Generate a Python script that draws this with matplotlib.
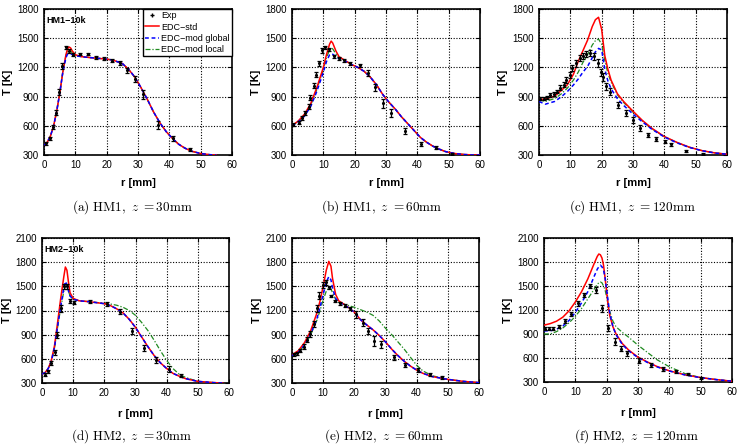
import matplotlib
matplotlib.use("Agg")
from matplotlib import pyplot as plt
from matplotlib.lines import Line2D

plt.rcParams['font.family'] = ['Liberation Sans', 'DejaVu Sans']
plt.rcParams['mathtext.fontset'] = 'cm'

# ---- HM1, z=30mm ----
r_a = [0, 1, 2, 3, 4, 5, 6, 7, 7.5, 8, 8.5, 9, 10, 12, 15, 20, 22, 25, 27, 29, 31, 33, 35, 37, 39, 41, 43, 45, 47, 50, 53, 55]
std_a = [400, 430, 490, 590, 740, 930, 1150, 1330, 1390, 1410, 1400, 1370, 1330, 1310, 1300, 1285, 1275, 1240, 1180, 1100, 990, 870, 740, 630, 540, 470, 410, 370, 340, 315, 303, 300]
glob_a = [400, 430, 490, 590, 740, 930, 1150, 1300, 1335, 1340, 1338, 1332, 1320, 1310, 1300, 1285, 1275, 1240, 1180, 1100, 990, 870, 740, 630, 540, 470, 410, 370, 340, 315, 303, 300]
loc_a = [400, 430, 490, 590, 740, 930, 1150, 1320, 1370, 1380, 1370, 1350, 1325, 1310, 1300, 1285, 1275, 1240, 1180, 1100, 990, 870, 740, 630, 540, 470, 410, 370, 340, 315, 303, 300]
exp_r_a = [0.7, 2, 2.9, 3.9, 4.8, 5.9, 6.9, 8, 9.2, 11.5, 14, 16.7, 19, 21.8, 24.4, 26.5, 29, 31.6, 36.5, 41.2, 46.5]
exp_T_a = [420, 470, 588, 736, 945, 1217, 1405, 1370, 1330, 1340, 1340, 1302, 1289, 1268, 1244, 1172, 1079, 925, 605, 472, 358]
err_a = [15, 15, 20, 25, 30, 30, 20, 20, 15, 10, 10, 15, 15, 15, 20, 25, 30, 45, 40, 25, 15]

# ---- HM1, z=60mm ----
r_b = [0, 2, 4, 6, 8, 10, 11, 12, 12.5, 13, 14, 15, 17, 19, 21, 23, 25, 27, 29, 31, 33, 35, 37, 39, 41, 43, 45, 47, 49, 52, 55, 58, 60]
std_b = [600, 650, 720, 830, 1000, 1200, 1330, 1440, 1470, 1450, 1370, 1310, 1270, 1230, 1200, 1160, 1100, 1020, 920, 840, 770, 690, 620, 550, 480, 430, 390, 360, 335, 315, 305, 300, 300]
glob_b = [600, 640, 700, 800, 960, 1150, 1260, 1330, 1340, 1335, 1310, 1290, 1265, 1230, 1200, 1160, 1100, 1020, 920, 840, 770, 690, 620, 550, 480, 430, 390, 360, 335, 315, 305, 300, 300]
loc_b = [600, 645, 710, 815, 980, 1180, 1300, 1380, 1400, 1390, 1340, 1300, 1268, 1230, 1200, 1160, 1100, 1020, 920, 840, 770, 690, 620, 550, 480, 430, 390, 360, 335, 315, 305, 300, 300]
exp_r_b = [0.2, 2.1, 3.2, 4.2, 5.3, 5.8, 6.9, 7.8, 8.7, 9.6, 10.6, 11.9, 13.3, 14.9, 16.5, 18.6, 21.8, 24.1, 26.5, 29.2, 31.5, 36.1, 41.2, 46, 51]
exp_T_b = [609, 633, 678, 729, 798, 890, 1014, 1124, 1244, 1374, 1405, 1385, 1313, 1296, 1272, 1244, 1220, 1141, 997, 832, 729, 547, 413, 375, 310]
err_b = [15, 15, 20, 20, 25, 25, 25, 25, 25, 25, 20, 15, 15, 15, 15, 15, 20, 30, 35, 45, 40, 30, 20, 15, 10]

# ---- HM1, z=120mm ----
r_c = [0, 2, 5, 7, 9, 11, 12.5, 14, 15.5, 17, 18, 19, 20, 21, 22, 23, 25, 27, 30, 33, 36, 40, 44, 48, 52, 56, 60]
std_c = [870, 875, 905, 960, 1020, 1130, 1260, 1370, 1480, 1620, 1690, 1715, 1590, 1320, 1180, 1070, 930, 850, 750, 655, 575, 490, 430, 380, 345, 322, 308]
glob_c = [850, 822, 850, 895, 950, 1020, 1080, 1150, 1210, 1300, 1360, 1395, 1380, 1180, 1060, 980, 880, 810, 720, 640, 565, 485, 425, 378, 344, 321, 308]
loc_c = [866, 850, 880, 925, 985, 1070, 1150, 1250, 1330, 1430, 1475, 1490, 1440, 1270, 1140, 1050, 920, 840, 740, 650, 570, 488, 428, 379, 345, 322, 308]
exp_r_c = [0.4, 1.5, 2.6, 3.6, 4.7, 5.7, 6.8, 7.9, 8.7, 9.8, 10.5, 11.9, 13, 14, 15.1, 16.4, 17.6, 18.8, 19.7, 20.4, 21.3, 22.6, 25.2, 27.9, 30, 32.3, 34.8, 37.4, 40.1, 42.2, 47, 52.3]
exp_T_c = [880, 880, 894, 918, 925, 952, 990, 1021, 1072, 1124, 1193, 1244, 1296, 1313, 1337, 1347, 1313, 1244, 1148, 1100, 1004, 952, 815, 729, 660, 581, 506, 461, 437, 410, 345, 310]
err_c = [15, 15, 15, 20, 20, 20, 25, 25, 30, 30, 35, 35, 30, 30, 30, 30, 35, 40, 40, 40, 40, 40, 30, 30, 30, 30, 25, 20, 15, 15, 10, 10]

# ---- HM2, z=30mm ----
r_d = [0, 1, 2, 3, 4, 5, 6, 7, 7.5, 8, 8.5, 9, 10, 12, 15, 20, 22, 24, 26, 28, 30, 32, 34, 36, 38, 40, 42, 44, 46, 50, 55, 58]
std_d = [410, 430, 480, 580, 760, 1050, 1350, 1620, 1740, 1700, 1550, 1420, 1350, 1320, 1310, 1285, 1260, 1220, 1170, 1090, 990, 870, 750, 640, 550, 480, 420, 385, 355, 320, 305, 300]
glob_d = [410, 430, 480, 570, 740, 1000, 1250, 1480, 1560, 1520, 1440, 1380, 1340, 1320, 1310, 1285, 1260, 1220, 1170, 1090, 990, 870, 750, 640, 550, 480, 420, 385, 355, 320, 305, 300]
loc_d = [410, 430, 480, 570, 730, 990, 1230, 1440, 1500, 1500, 1440, 1380, 1340, 1320, 1310, 1290, 1280, 1265, 1240, 1200, 1140, 1050, 950, 830, 700, 580, 480, 410, 370, 320, 305, 300]
exp_r_d = [0.9, 1.9, 3, 4.1, 4.8, 6, 7, 8, 9, 10.2, 15.3, 20.7, 24.9, 29, 32.6, 36.7, 40.7, 44.7]
exp_T_d = [403, 444, 547, 679, 897, 1227, 1500, 1500, 1317, 1297, 1310, 1280, 1185, 947, 732, 588, 477, 391]
err_d = [15, 15, 20, 30, 40, 40, 30, 30, 20, 20, 15, 20, 30, 35, 40, 35, 35, 20]

# ---- HM2, z=60mm ----
r_e = [0, 2, 4, 6, 8, 9, 10, 11, 11.8, 12.5, 13, 14, 15, 17, 20, 22, 24, 26, 28, 30, 32, 34, 36, 38, 40, 42, 45, 50, 55, 60]
std_e = [650, 700, 800, 950, 1170, 1320, 1500, 1700, 1810, 1750, 1600, 1400, 1320, 1270, 1180, 1085, 1020, 960, 890, 810, 720, 640, 570, 510, 460, 420, 380, 345, 320, 305]
glob_e = [640, 680, 770, 910, 1100, 1240, 1400, 1550, 1620, 1580, 1480, 1350, 1300, 1265, 1180, 1085, 1020, 960, 890, 810, 720, 640, 570, 510, 460, 420, 380, 345, 320, 305]
loc_e = [640, 680, 770, 900, 1080, 1200, 1330, 1440, 1480, 1470, 1420, 1340, 1300, 1275, 1240, 1210, 1180, 1140, 1070, 980, 900, 810, 720, 620, 520, 450, 390, 345, 320, 305]
exp_r_e = [0.5, 1.6, 2.7, 3.7, 4.8, 5.9, 6.9, 8, 8.8, 9.9, 11, 12, 12.6, 13.9, 15.5, 17, 18.7, 20.6, 22.7, 24.5, 26.3, 28.5, 32.7, 36.2, 40.3, 44.2, 48]
exp_T_e = [658, 670, 700, 753, 835, 905, 1033, 1227, 1383, 1515, 1548, 1486, 1383, 1317, 1288, 1260, 1227, 1153, 1050, 947, 823, 782, 617, 527, 456, 407, 370]
err_e = [20, 20, 20, 25, 30, 35, 40, 45, 45, 40, 30, 20, 15, 15, 15, 15, 20, 40, 45, 40, 60, 45, 30, 25, 25, 20, 15]

# ---- HM2, z=120mm ----
r_f = [0, 2, 4, 6, 8, 10, 12, 14, 16, 17, 17.5, 18, 18.5, 19, 19.5, 20, 20.5, 21, 22, 23, 25, 27, 30, 33, 36, 40, 45, 50, 55, 60]
std_f = [1010, 1030, 1060, 1110, 1190, 1300, 1430, 1590, 1780, 1870, 1900, 1890, 1850, 1760, 1600, 1420, 1250, 1130, 990, 900, 780, 700, 610, 550, 495, 440, 390, 355, 330, 310]
glob_f = [940, 940, 960, 1000, 1070, 1170, 1290, 1430, 1620, 1710, 1740, 1760, 1740, 1700, 1600, 1450, 1300, 1160, 990, 890, 770, 690, 605, 545, 490, 437, 388, 354, 330, 310]
loc_f = [900, 900, 930, 975, 1040, 1120, 1220, 1340, 1460, 1520, 1540, 1550, 1540, 1500, 1450, 1360, 1270, 1180, 1060, 990, 920, 860, 760, 670, 580, 490, 405, 355, 330, 310]
exp_r_f = [0.4, 1.5, 2.9, 4.8, 6.8, 8.7, 10.9, 12.8, 14.6, 16.7, 18.5, 20.4, 22.6, 24.5, 26.5, 30.2, 34.3, 38, 42.2, 46, 50]
exp_T_f = [964, 964, 964, 993, 1067, 1146, 1283, 1387, 1499, 1449, 1221, 972, 806, 715, 661, 565, 516, 462, 433, 400, 350]
err_f = [20, 20, 20, 20, 25, 25, 30, 30, 30, 35, 45, 40, 40, 30, 30, 30, 25, 20, 15, 15, 15]

captions = [r'$\mathrm{(a)\ HM1,}\ z\ \mathrm{{=}30mm}$', r'$\mathrm{(b)\ HM1,}\ z\ \mathrm{{=}60mm}$',
            r'$\mathrm{(c)\ HM1,}\ z\ \mathrm{{=}120mm}$', r'$\mathrm{(d)\ HM2,}\ z\ \mathrm{{=}30mm}$',
            r'$\mathrm{(e)\ HM2,}\ z\ \mathrm{{=}60mm}$', r'$\mathrm{(f)\ HM2,}\ z\ \mathrm{{=}120mm}$']

panels = [
    (r_a, std_a, glob_a, loc_a, exp_r_a, exp_T_a, err_a),
    (r_b, std_b, glob_b, loc_b, exp_r_b, exp_T_b, err_b),
    (r_c, std_c, glob_c, loc_c, exp_r_c, exp_T_c, err_c),
    (r_d, std_d, glob_d, loc_d, exp_r_d, exp_T_d, err_d),
    (r_e, std_e, glob_e, loc_e, exp_r_e, exp_T_e, err_e),
    (r_f, std_f, glob_f, loc_f, exp_r_f, exp_T_f, err_f),
]

# axes boxes in pixels: left, right, top, bottom
W, H = 744, 447
boxes = [(44, 232, 9, 155), (292, 480, 9, 155), (539, 727, 9, 155),
         (42, 229, 238, 383), (292, 479, 238, 383), (544, 732, 238, 382)]
cap_x = [132, 382, 632, 132, 384, 636]
cap_y = [207, 207, 207, 436, 436, 436]

fig = plt.figure(figsize=(7.44, 4.47), dpi=100)

for i, (r, std, glob, loc, er, eT, ee) in enumerate(panels):
    l, rr, t, b = boxes[i]
    ax = fig.add_axes([l / W, (H - b) / H, (rr - l) / W, (b - t) / H])
    ax.plot(r, loc, color='#1f8a1f', lw=0.9, dashes=(4, 1.5, 1, 1.5), zorder=3)
    ax.plot(r, std, color='#ff0000', lw=1.1, zorder=4)
    ax.plot(r, glob, color='#0000ff', lw=1.1, dashes=(2.5, 1.8), zorder=5)
    ax.errorbar(er, eT, yerr=ee, fmt='.', color='k', ms=2.5, elinewidth=0.9,
                capsize=1.7, capthick=0.9, zorder=6)

    ax.set_xlim(0, 60)
    ax.set_xticks(range(0, 61, 10))
    if i < 3:
        ax.set_ylim(300, 1800)
        ax.set_yticks(range(300, 1801, 300))
    else:
        ax.set_ylim(300, 2100)
        ax.set_yticks(range(300, 2101, 300))
    ax.grid(True, color='k', linestyle=(0, (1, 1.5)), linewidth=0.8)
    ax.tick_params(direction='in', top=True, right=True, labelsize=7, length=3, width=0.8)
    for s in ax.spines.values():
        s.set_linewidth(1.2)
    ax.set_xlabel('r [mm]', fontsize=8, fontweight='bold')
    ax.set_ylabel('T [K]', fontsize=8, fontweight='bold')
    ax.xaxis.set_label_coords(0.5, -0.16 if i < 3 else -0.18)
    ax.yaxis.set_label_coords(-0.163, 0.5)

    fig.text(cap_x[i] / W, 1 - cap_y[i] / H, captions[i], ha='center', va='center', fontsize=9.5)

    if i == 0:
        ax.text(0.015, 0.955, 'HM1\u221210k', transform=ax.transAxes, fontsize=6.5,
                fontweight='bold', va='top', ha='left')
        handles = [Line2D([], [], marker='+', ms=3, ls='none', color='k'),
                   Line2D([], [], color='#ff0000', lw=1.1),
                   Line2D([], [], color='#0000ff', lw=1.1, dashes=(2.5, 1.8)),
                   Line2D([], [], color='#1f8a1f', lw=0.9, dashes=(4, 1.5, 1, 1.5))]
        leg = ax.legend(handles, ['Exp', 'EDC\u2212std', 'EDC\u2212mod global', 'EDC\u2212mod local'],
                        loc='upper right', fontsize=6.5, fancybox=False, framealpha=1,
                        edgecolor='k', borderaxespad=0, handlelength=1.5, handletextpad=0.3,
                        labelspacing=0.25, borderpad=0.25)
        leg.get_frame().set_linewidth(1.0)
    if i == 3:
        ax.text(0.015, 0.955, 'HM2\u221210k', transform=ax.transAxes, fontsize=6.5,
                fontweight='bold', va='top', ha='left')

fig.savefig('out.png', dpi=100)
